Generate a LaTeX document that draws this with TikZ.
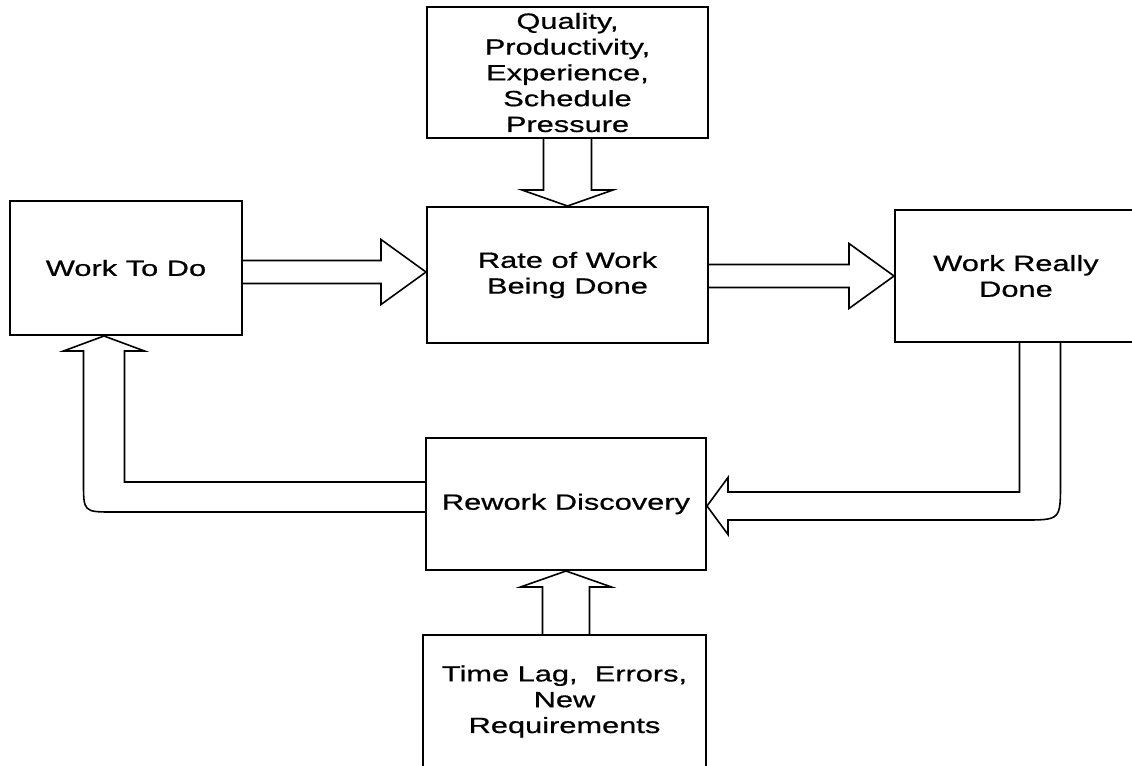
\documentclass[tikz,border=0pt]{standalone}
\usepackage{fontspec}
\setmainfont{Liberation Sans}[FakeStretch=1.4, FakeBold=0.7]
\usetikzlibrary{calc}

\begin{document}
\begin{tikzpicture}[x=0.5pt, y=-0.5pt,
            box/.style={draw, line width=1pt, inner sep=0pt, align=center, font=\fontsize{11}{12.9}\selectfont},
            hollow/.style={draw, line width=0.8pt, line join=miter}]
            \useasboundingbox (0,0) rectangle (1132,766);
            \clip (0,0) rectangle (1132,766);
            \node[box, minimum width=116pt, minimum height=67pt] (wtd) at (126,268) {Work To Do};
            \node[box, minimum width=140.5pt, minimum height=68pt] (rate) at (567.5,275) {Rate of Work\\Being Done};
            \node[box, minimum width=121pt, minimum height=66pt] (wrd) at (1016,276) {Work Really\\Done};
            \node[box, minimum width=140.5pt, minimum height=65.5pt] (factors) at (567.5,72.5) {Quality,\\Productivity,\\Experience,\\Schedule\\Pressure};
            \node[box, minimum width=140pt, minimum height=66pt] (rework) at (566,504) {Rework Discovery};
            \node[box, minimum width=141.5pt, minimum height=66.5pt] (causes) at (564.5,701.5) {Time Lag,\ \ Errors,\\New\\Requirements};
            \coordinate (a1) at ($(rate.west)+(0,-3)$);
            \coordinate (a2) at (wrd.west);
            \coordinate (a3) at (rate.north);
            \coordinate (a4) at (rework.south);
            \coordinate (a5) at ($(rework.east)+(0,2)$);
            \coordinate (c5) at ($(wrd.south)+(24,0)$);
            \coordinate (a6) at ($(wtd.south)+(-22,0)$);
            \coordinate (c6) at ($(rework.west)+(0,-7)$);
            \draw[hollow] ($(wtd.east |- a1)+(0,-11.5)$) -- ($(a1)+(-45,-11.5)$) -- ($(a1)+(-45,-32.5)$) -- (a1)
                  -- ($(a1)+(-45,32.5)$) -- ($(a1)+(-45,11.5)$) -- ($(wtd.east |- a1)+(0,11.5)$);
            \draw[hollow] ($(rate.east |- a2)+(0,-11.5)$) -- ($(a2)+(-45,-11.5)$) -- ($(a2)+(-45,-32.5)$) -- (a2)
                  -- ($(a2)+(-45,32.5)$) -- ($(a2)+(-45,11.5)$) -- ($(rate.east |- a2)+(0,11.5)$);
            \draw[hollow] ($(factors.south -| a3)+(-24,0)$) -- ($(a3)+(-24,-16)$) -- ($(a3)+(-45.5,-16)$) -- (a3)
                  -- ($(a3)+(45.5,-16)$) -- ($(a3)+(24,-16)$) -- ($(factors.south -| a3)+(24,0)$);
            \draw[hollow] ($(causes.north -| a4)+(-23.5,0)$) -- ($(a4)+(-23.5,16)$) -- ($(a4)+(-45.5,16)$) -- (a4)
                  -- ($(a4)+(45.5,16)$) -- ($(a4)+(23.5,16)$) -- ($(causes.north -| a4)+(23.5,0)$);
            \draw[hollow] ($(c5)+(-20.5,0)$) -- ($(c5 |- a5)+(-20.5,-14)$) -- ($(a5)+(21,-14)$) -- ($(a5)+(21,-28.5)$) -- (a5)
                  -- ($(a5)+(21,28.5)$) -- ($(a5)+(21,14)$) -- ($(c5 |- a5)+(-16.5,14)$)
                  .. controls ($(c5 |- a5)+(20.5,14)$) .. ($(c5 |- a5)+(20.5,-23)$) -- ($(c5)+(20.5,0)$);
            \draw[hollow] ($(c6)+(0,-15)$) -- ($(c6 -| a6)+(20.5,-15)$) -- ($(a6)+(20.5,15)$) -- ($(a6)+(40.5,15)$) -- (a6)
                  -- ($(a6)+(-40.5,15)$) -- ($(a6)+(-20.5,15)$) -- ($(c6 -| a6)+(-20.5,-15)$)
                  .. controls ($(c6 -| a6)+(-20.5,15)$) .. ($(c6 -| a6)+(9.5,15)$) -- ($(c6)+(0,15)$);
      \end{tikzpicture}
\end{document}
